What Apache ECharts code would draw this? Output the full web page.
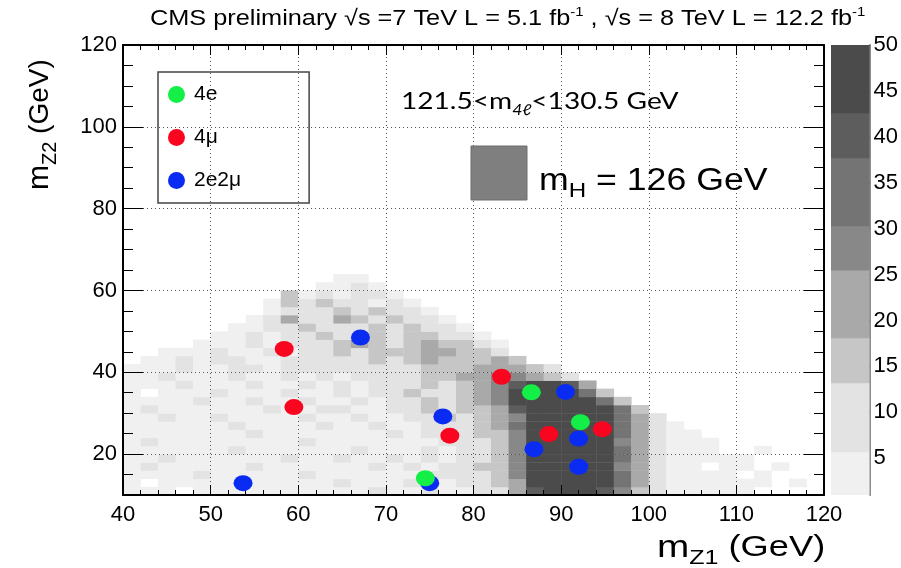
<!DOCTYPE html>
<html><head><meta charset="utf-8">
<script src="https://cdn.jsdelivr.net/npm/echarts@6/dist/echarts.min.js"></script>
<style>html,body{margin:0;padding:0;background:#fff}#c{width:901px;height:568px}</style>
</head><body><div id="c"></div>
<script>
// ---------- data ----------
const xMin = 40, xMax = 120;
const yMin = 10, yMax = 120;
const xTickStep = 10;
const yMajorTicks = [20, 40, 60, 80, 100, 120];
const colorbarTicks = [5, 10, 15, 20, 25, 30, 35, 40, 45, 50];

// histogram binning (GeV)
const binX0 = 40, binW = 2, binH = 2;
// contour level per 2x2 GeV bin, keyed by lower y edge; columns start at x=40 (groups of 5 bins = 10 GeV)
const heatRows = {
  62: "00000 00000 00110",
  60: "00000 00000 01121",
  58: "00000 00003 12122 10000",
  56: "00000 00013 23221 21000",
  54: "00000 00012 22323 22100",
  52: "00000 00124 22432 32210",
  50: "00000 01122 32223 23221",
  48: "00000 11212 23223 23322 10000",
  46: "00001 11212 22343 23433 21000",
  44: "00111 21121 22323 33443 32000",
  42: "01121 22112 22223 23433 34300",
  40: "11121 12212 22222 22333 44432",
  38: "11211 12112 12122 22334 45543 2",
  36: "11121 11211 21212 22323 45788 74",
  34: "10111 21112 11212 23223 45888 863",
  32: "11112 11211 21121 22323 45888 8863",
  30: "12111 11121 12211 22323 34788 88863",
  28: "11211 21111 21121 12232 34588 88864 2",
  26: "11111 12111 12112 11222 34688 88864 21",
  24: "11111 11211 11111 21222 33588 88864 211",
  22: "12111 11111 21111 11122 23588 88854 2111",
  20: "11111 12111 11121 11212 23588 88864 21110 01",
  18: "11211 11112 11211 21212 23588 88864 21111 1",
  16: "12111 11211 11112 12122 33588 88854 21101 10100",
  14: "11112 11111 21111 11222 23588 88864 21111 01000",
  12: "10111 11111 11211 12112 23488 88864 21111 11010",
  10: "11101 11111 11112 11211 22478 88753 21111 1"
};
const levelColors = ['#ffffff', '#f0f0f0', '#e3e3e3', '#c6c6c6', '#a9a9a9', '#888888', '#747474', '#5d5d5d', '#4b4b4b'];
const colorbarEdges = [1, 5.7, 13.2, 18.1, 25.5, 30.3, 37.7, 42.6, 50];

// observed events (mZ1, mZ2) in GeV
const events4e = [[86.6, 35.1], [92.2, 27.8], [74.5, 14.1]];
const events4mu = [[58.4, 45.7], [59.5, 31.5], [83.2, 38.9], [77.3, 24.5], [88.6, 24.9], [94.7, 26.1]];
const events2e2mu = [[67.1, 48.5], [76.5, 29.2], [90.5, 35.2], [92.0, 23.8], [86.9, 21.2], [92.0, 16.9], [75.0, 12.9], [53.7, 12.9]];

// ---------- build ----------
const heat = [];
Object.keys(heatRows).forEach(k => {
  const y0 = +k;
  const s = heatRows[k].replace(/\s/g, '');
  for (let i = 0; i < s.length; i++) {
    const lv = +s[i];
    if (lv > 0) heat.push([binX0 + i * binW, y0, lv]);
  }
});
const cbBands = [];
for (let i = 0; i < colorbarEdges.length - 1; i++) cbBands.push([colorbarEdges[i], colorbarEdges[i + 1], i + 1]);

const FONT = '"Liberation Sans", Arial, Helvetica, sans-serif';
const ELLIPSE = 'path://M0,50a50,50 0 1,0 100,0a50,50 0 1,0 -100,0z';
const BLACK = '#000';
const tickLine = { color: BLACK, width: 1 };
const frameLine = { show: true, onZero: false, lineStyle: { color: BLACK, width: 2 } };
const gridLine = { show: true, lineStyle: { color: '#555', type: [1, 3], width: 1 } };

function xAx(pos, labels) {
  return {
    gridIndex: 0, type: 'value', min: xMin, max: xMax, interval: xTickStep, position: pos, z: 3,
    axisLine: frameLine,
    axisTick: { show: true, inside: true, length: 10, lineStyle: tickLine },
    minorTick: { show: true, splitNumber: 5, length: 5, lineStyle: tickLine },
    axisLabel: { show: labels, color: BLACK, fontSize: 22, fontFamily: FONT, margin: 9 },
    splitLine: labels ? gridLine : { show: false }
  };
}
function yMajor(pos, labels) {
  return {
    gridIndex: 0, type: 'value', min: yMin, max: yMax, interval: 10, position: pos, z: 3,
    axisLine: frameLine,
    axisTick: { show: true, inside: true, length: 20, customValues: yMajorTicks, lineStyle: tickLine },
    minorTick: { show: false },
    axisLabel: { show: labels, customValues: yMajorTicks, color: BLACK, fontSize: 22, fontFamily: FONT, margin: 6 },
    splitLine: labels ? gridLine : { show: false }
  };
}
function yMinor(pos) {
  return {
    gridIndex: 0, type: 'value', min: yMin, max: yMax, interval: 10, position: pos, z: 3,
    axisLine: { show: false },
    axisTick: { show: true, inside: true, length: 10, lineStyle: tickLine },
    minorTick: { show: true, splitNumber: 2, length: 10, lineStyle: tickLine },
    axisLabel: { show: false }, splitLine: { show: false }
  };
}
function pointSeries(name, data, color) {
  return { type: 'scatter', name: name, xAxisIndex: 0, yAxisIndex: 0, z: 6, data: data, symbol: ELLIPSE, symbolSize: [19, 16], itemStyle: { color: color, opacity: 1 } };
}

const option = {
  animation: false,
  backgroundColor: '#fff',
  grid: [
    { left: 123, right: 77, top: 45, bottom: 73 },
    { left: 831, width: 40, top: 45, height: 450 }
  ],
  xAxis: [
    xAx('bottom', true),
    xAx('top', false),
    { gridIndex: 1, type: 'value', min: 0, max: 1, show: false }
  ],
  yAxis: [
    yMajor('left', true),
    yMinor('left'),
    yMajor('right', false),
    yMinor('right'),
    {
      gridIndex: 1, type: 'value', min: 1, max: 50, position: 'right',
      axisLine: { show: true, onZero: false, lineStyle: { color: '#8c8c8c', width: 2 } },
      axisTick: { show: true, inside: true, length: 20, customValues: colorbarTicks, lineStyle: { color: '#333', width: 1 } },
      axisLabel: { show: true, customValues: colorbarTicks, color: BLACK, fontSize: 22, fontFamily: FONT, margin: 4 },
      splitLine: { show: false }
    }
  ],
  legend: {
    data: ['4e', '4μ', '2e2μ'],
    orient: 'vertical', left: 158, top: 72,
    padding: [12, 68, 12, 10],
    itemWidth: 19, itemHeight: 17, itemGap: 22,
    borderColor: '#444', borderWidth: 1.5,
    icon: ELLIPSE,
    textStyle: { color: BLACK, fontSize: 21, fontFamily: FONT, padding: [0, 0, 0, 3] }
  },
  series: [
    {
      type: 'custom', name: 'signal', xAxisIndex: 0, yAxisIndex: 0, z: 2, clip: true,
      data: heat,
      renderItem: function (params, api) {
        const x0 = api.value(0), y0 = api.value(1), lv = api.value(2);
        const p0 = api.coord([x0, y0]), p1 = api.coord([x0 + binW, y0 + binH]);
        return { type: 'rect', shape: { x: p0[0], y: p1[1], width: p1[0] - p0[0] + 0.4, height: p0[1] - p1[1] + 0.4 }, style: { fill: levelColors[lv] } };
      }
    },
    {
      type: 'custom', name: 'colorbar', xAxisIndex: 2, yAxisIndex: 4, z: 2, clip: true,
      data: cbBands,
      renderItem: function (params, api) {
        const lo = api.value(0), hi = api.value(1), lv = api.value(2);
        const p0 = api.coord([0, lo]), p1 = api.coord([1, hi]);
        return { type: 'rect', shape: { x: p0[0], y: p1[1], width: p1[0] - p0[0], height: p0[1] - p1[1] + 0.4 }, style: { fill: levelColors[lv] } };
      }
    },
    pointSeries('2e2μ', events2e2mu, '#0a2cf2'),
    pointSeries('4μ', events4mu, '#fa0520'),
    pointSeries('4e', events4e, '#13ef47')
  ],
  graphic: [
    {
      type: 'text', x: 150, y: 6, scaleX: 1.15, z: 10,
      style: {
        text: '{t|CMS preliminary √s =7 TeV L = 5.1 fb}{s|-1}{t| , √s = 8 TeV L = 12.2 fb}{s|-1}',
        rich: {
          t: { fontFamily: FONT, fontSize: 22, lineHeight: 26, fill: BLACK },
          s: { fontFamily: FONT, fontSize: 13, lineHeight: 13, verticalAlign: 'top', fill: BLACK }
        }
      }
    },
    {
      type: 'text', x: 20, y: 190, rotation: Math.PI / 2, z: 10,
      style: {
        text: '{m|m}{s|Z2}{n| (GeV)}',
        rich: {
          m: { fontFamily: FONT, fontSize: 30, lineHeight: 40, fill: BLACK },
          s: { fontFamily: FONT, fontSize: 20, lineHeight: 20, verticalAlign: 'bottom', fill: BLACK },
          n: { fontFamily: FONT, fontSize: 28, lineHeight: 40, fill: BLACK }
        }
      }
    },
    {
      type: 'text', x: 657, y: 528, scaleX: 1.25, z: 10,
      style: {
        text: '{m|m}{s|Z1}{n| (GeV)}',
        rich: {
          m: { fontFamily: FONT, fontSize: 31, lineHeight: 40, fill: BLACK },
          s: { fontFamily: FONT, fontSize: 20, lineHeight: 20, verticalAlign: 'bottom', fill: BLACK },
          n: { fontFamily: FONT, fontSize: 29, lineHeight: 40, fill: BLACK }
        }
      }
    },
    {
      type: 'text', x: 401, y: 84, scaleX: 1.17, z: 10,
      style: {
        text: '{a|121.5<m}{s|4ℓ}{a|<130.5 GeV}',
        rich: {
          a: { fontFamily: 'Lato, sans-serif', fontSize: 24, lineHeight: 34, fill: BLACK },
          s: { fontFamily: 'Lato, sans-serif', fontSize: 15, fontStyle: 'italic', lineHeight: 15, verticalAlign: 'bottom', fill: BLACK }
        }
      }
    },
    {
      type: 'rect', z: 10,
      shape: { x: 471, y: 146, width: 56, height: 54 },
      style: { fill: '#7f7f7f', stroke: '#6f6f6f', lineWidth: 1 }
    },
    {
      type: 'text', x: 539, y: 160, scaleX: 1.15, z: 10,
      style: {
        text: '{m|m}{s|H}{n| = 126 GeV}',
        rich: {
          m: { fontFamily: FONT, fontSize: 31, lineHeight: 42, fill: BLACK },
          s: { fontFamily: FONT, fontSize: 21, lineHeight: 22, verticalAlign: 'bottom', fill: BLACK },
          n: { fontFamily: FONT, fontSize: 31, lineHeight: 42, fill: BLACK }
        }
      }
    }
  ]
};
const chart = echarts.init(document.getElementById('c'));
chart.setOption(option);
</script>
</body></html>
